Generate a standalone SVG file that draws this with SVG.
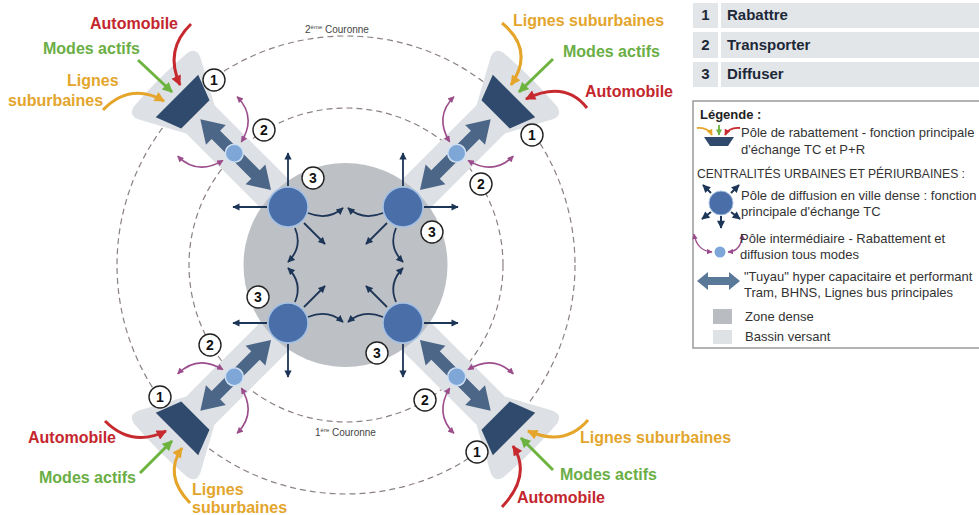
<svg xmlns="http://www.w3.org/2000/svg" width="979" height="515" viewBox="0 0 979 515">
<defs>
<style>
text{font-family:"Liberation Sans",Arial,Helvetica,sans-serif}
.lbl{font-size:16px;font-weight:bold}
.red{fill:#c4262e}
.grn{fill:#6aae45}
.yel{fill:#e3a52c}
.dash{fill:none;stroke:#8c8080;stroke-width:1.2;stroke-dasharray:6 4}
.band{fill:#dde0e4}
.funnel{fill:#2f4a6d}
.pipe{fill:#4c6688}
.ipole{fill:#7ea7d8;stroke:#d0e0f2;stroke-width:1.5}
.dpole{fill:#4a6fa8;stroke:#a4c0e4;stroke-width:1.5}
.nav{fill:none;stroke:#1d3557;stroke-width:1.8;marker-end:url(#mN)}
.pur{fill:none;stroke:#9b4d8b;stroke-width:1.6;marker-start:url(#mP);marker-end:url(#mP)}
.ar{fill:none;stroke:#c62a2f;stroke-width:3;marker-end:url(#mR)}
.ag{fill:none;stroke:#6db33f;stroke-width:3;marker-end:url(#mG)}
.ay{fill:none;stroke:#e5a52a;stroke-width:3;marker-end:url(#mY)}
.num circle{fill:#fff;stroke:#222;stroke-width:1.4}
.num text{font-size:14px;font-weight:bold;text-anchor:middle;fill:#111}
.leg{font-size:13px;fill:#333}
.box{fill:#e3e6e9}
.btxt{font-size:15px;font-weight:bold;fill:#1d2838}
.cour{font-size:10px;fill:#444}
</style>
<marker id="mN" viewBox="0 0 10 10" refX="9" refY="5" markerWidth="4.6" markerHeight="4" markerUnits="strokeWidth" orient="auto"><path d="M0 0L10 5L0 10Z" fill="#1d3557"/></marker>
<marker id="mP" viewBox="0 0 10 10" refX="9" refY="5" markerWidth="4.4" markerHeight="4" markerUnits="strokeWidth" orient="auto-start-reverse"><path d="M0 0L10 5L0 10Z" fill="#9b4d8b"/></marker>
<marker id="mR" viewBox="0 0 10 10" refX="9" refY="5" markerWidth="3.6" markerHeight="3.4" markerUnits="strokeWidth" orient="auto"><path d="M0 0L10 5L0 10Z" fill="#c62a2f"/></marker>
<marker id="mG" viewBox="0 0 10 10" refX="9" refY="5" markerWidth="3.6" markerHeight="3.4" markerUnits="strokeWidth" orient="auto"><path d="M0 0L10 5L0 10Z" fill="#6db33f"/></marker>
<marker id="mY" viewBox="0 0 10 10" refX="9" refY="5" markerWidth="3.6" markerHeight="3.4" markerUnits="strokeWidth" orient="auto"><path d="M0 0L10 5L0 10Z" fill="#e5a52a"/></marker>
</defs>

<!-- couronnes -->
<g id="couronnes">
<circle class="dash" cx="346" cy="265" r="229"/>
<circle class="dash" cx="346" cy="265" r="157"/>
<text class="cour" x="305" y="33">2<tspan font-size="6" dy="-4">ème</tspan><tspan dy="4"> Couronne</tspan></text>
<text class="cour" x="315" y="436">1<tspan font-size="6" dy="-4">ère</tspan><tspan dy="4"> Couronne</tspan></text>
</g>

<!-- bassins versants -->
<g id="bassins">
<path class="band" transform="translate(288,207) rotate(225)" d="M0 -20L124 -20L168 -44Q178 -48 180 -38Q183 0 180 38Q178 48 168 44L124 20L0 20Z"/>
<path class="band" transform="translate(403,207) rotate(-45)" d="M0 -20L124 -20L168 -44Q178 -48 180 -38Q183 0 180 38Q178 48 168 44L124 20L0 20Z"/>
<path class="band" transform="translate(403,323) rotate(45)" d="M0 -20L124 -20L168 -44Q178 -48 180 -38Q183 0 180 38Q178 48 168 44L124 20L0 20Z"/>
<path class="band" transform="translate(288,323) rotate(135)" d="M0 -20L124 -20L168 -44Q178 -48 180 -38Q183 0 180 38Q178 48 168 44L124 20L0 20Z"/>
</g>

<g id="zone-dense"><circle cx="345.5" cy="265" r="102" fill="#bdc0c4"/></g>

<!-- corridors: tuyau, pole de rabattement, pole intermediaire -->
<g id="axe-nw" transform="translate(288,207) rotate(225)">
<path class="pipe" d="M24 0L46 -14L46 -6L102 -6L102 -14L124 0L102 14L102 6L46 6L46 14Z"/>
<path class="funnel" d="M131 -20L157 -30L157 30L131 20Z"/>
<circle class="ipole" cx="76" cy="0" r="9"/>
</g>
<g id="axe-ne" transform="translate(403,207) rotate(-45)">
<path class="pipe" d="M24 0L46 -14L46 -6L102 -6L102 -14L124 0L102 14L102 6L46 6L46 14Z"/>
<path class="funnel" d="M131 -20L157 -30L157 30L131 20Z"/>
<circle class="ipole" cx="76" cy="0" r="9"/>
</g>
<g id="axe-se" transform="translate(403,323) rotate(45)">
<path class="pipe" d="M24 0L46 -14L46 -6L102 -6L102 -14L124 0L102 14L102 6L46 6L46 14Z"/>
<path class="funnel" d="M131 -20L157 -30L157 30L131 20Z"/>
<circle class="ipole" cx="76" cy="0" r="9"/>
</g>
<g id="axe-sw" transform="translate(288,323) rotate(135)">
<path class="pipe" d="M24 0L46 -14L46 -6L102 -6L102 -14L124 0L102 14L102 6L46 6L46 14Z"/>
<path class="funnel" d="M131 -20L157 -30L157 30L131 20Z"/>
<circle class="ipole" cx="76" cy="0" r="9"/>
</g>

<!-- poles de diffusion -->
<g id="pole-nw"><circle class="dpole" cx="288" cy="207" r="20"/></g>
<g id="pole-ne"><circle class="dpole" cx="403" cy="207" r="20"/></g>
<g id="pole-sw"><circle class="dpole" cx="288" cy="323" r="20"/></g>
<g id="pole-se"><circle class="dpole" cx="403" cy="323" r="20"/></g>

<!-- connectors -->
<g id="connectors">
<g transform="translate(288,207)">
<path class="nav" d="M0 -21L0 -54"/><path class="nav" d="M-21 0L-55 0"/><path class="nav" d="M20 6Q40 14 55 1"/><path class="nav" d="M16 16L37 37"/><path class="nav" d="M7 21Q15 40 0 55"/>
</g>
<g transform="translate(403,207) scale(-1,1)">
<path class="nav" d="M0 -21L0 -54"/><path class="nav" d="M-21 0L-55 0"/><path class="nav" d="M20 6Q40 14 55 1"/><path class="nav" d="M16 16L37 37"/><path class="nav" d="M7 21Q15 40 0 55"/>
</g>
<g transform="translate(288,323) scale(1,-1)">
<path class="nav" d="M0 -21L0 -54"/><path class="nav" d="M-21 0L-55 0"/><path class="nav" d="M20 6Q40 14 55 1"/><path class="nav" d="M16 16L37 37"/><path class="nav" d="M7 21Q15 40 0 55"/>
</g>
<g transform="translate(403,323) scale(-1,-1)">
<path class="nav" d="M0 -21L0 -54"/><path class="nav" d="M-21 0L-55 0"/><path class="nav" d="M20 6Q40 14 55 1"/><path class="nav" d="M16 16L37 37"/><path class="nav" d="M7 21Q15 40 0 55"/>
</g>
<g transform="translate(288,207) rotate(225)"><path class="pur" d="M79 13Q86 42 114 42"/><path class="pur" d="M79 -13Q86 -42 114 -42"/></g>
<g transform="translate(403,207) rotate(-45)"><path class="pur" d="M79 13Q86 42 114 42"/><path class="pur" d="M79 -13Q86 -42 114 -42"/></g>
<g transform="translate(403,323) rotate(45)"><path class="pur" d="M79 13Q86 42 114 42"/><path class="pur" d="M79 -13Q86 -42 114 -42"/></g>
<g transform="translate(288,323) rotate(135)"><path class="pur" d="M79 13Q86 42 114 42"/><path class="pur" d="M79 -13Q86 -42 114 -42"/></g>
<path class="ar" d="M191 24Q164 50 180 85"/>
<path class="ag" d="M138 60L172 92"/>
<path class="ay" d="M103 110Q130 82 164 101"/>
<path class="ay" d="M502 23Q535 50 511 85"/>
<path class="ag" d="M553 59L519 92"/>
<path class="ar" d="M587 108Q565 80 526 99"/>
<path class="ar" d="M105 421Q132 448 166 431"/>
<path class="ag" d="M140 473L172 441"/>
<path class="ay" d="M190 503Q163 475 182 448"/>
<path class="ay" d="M588 420Q565 447 528 431"/>
<path class="ag" d="M553 470L521 438"/>
<path class="ar" d="M502 507Q532 475 513 446"/>
</g>

<!-- number markers -->
<g id="markers">
<g class="num"><circle cx="214" cy="80" r="11"/><text x="214" y="85">1</text></g>
<g class="num"><circle cx="264" cy="130" r="11"/><text x="264" y="135">2</text></g>
<g class="num"><circle cx="313" cy="178" r="11"/><text x="313" y="183">3</text></g>
<g class="num"><circle cx="532" cy="135" r="11"/><text x="532" y="140">1</text></g>
<g class="num"><circle cx="481" cy="184" r="11"/><text x="481" y="189">2</text></g>
<g class="num"><circle cx="432" cy="232" r="11"/><text x="432" y="237">3</text></g>
<g class="num"><circle cx="160" cy="397" r="11"/><text x="160" y="402">1</text></g>
<g class="num"><circle cx="210" cy="345" r="11"/><text x="210" y="350">2</text></g>
<g class="num"><circle cx="258" cy="297" r="11"/><text x="258" y="302">3</text></g>
<g class="num"><circle cx="477" cy="452" r="11"/><text x="477" y="457">1</text></g>
<g class="num"><circle cx="425" cy="400" r="11"/><text x="425" y="405">2</text></g>
<g class="num"><circle cx="377" cy="353" r="11"/><text x="377" y="358">3</text></g>
</g>

<!-- mode labels -->
<g id="labels-nw">
<text class="lbl red" x="90" y="29">Automobile</text>
<text class="lbl grn" x="43" y="54">Modes actifs</text>
<text class="lbl yel" x="67" y="86">Lignes</text>
<text class="lbl yel" x="8" y="106">suburbaines</text>
</g>
<g id="labels-ne">
<text class="lbl yel" x="513" y="26">Lignes suburbaines</text>
<text class="lbl grn" x="563" y="57">Modes actifs</text>
<text class="lbl red" x="585" y="97">Automobile</text>
</g>
<g id="labels-sw">
<text class="lbl red" x="28" y="443">Automobile</text>
<text class="lbl grn" x="39" y="483">Modes actifs</text>
<text class="lbl yel" x="192" y="495">Lignes</text>
<text class="lbl yel" x="192" y="513">suburbaines</text>
</g>
<g id="labels-se">
<text class="lbl yel" x="580" y="443">Lignes suburbaines</text>
<text class="lbl grn" x="560" y="480">Modes actifs</text>
<text class="lbl red" x="517" y="503">Automobile</text>
</g>

<!-- fonctions table -->
<g id="fonctions">
<rect class="box" x="693" y="3" width="25" height="25"/><rect class="box" x="721" y="3" width="258" height="25"/>
<rect class="box" x="693" y="32" width="25" height="26"/><rect class="box" x="721" y="32" width="258" height="26"/>
<rect class="box" x="693" y="62" width="25" height="25"/><rect class="box" x="721" y="62" width="258" height="25"/>
<text class="btxt" x="705.5" y="20" text-anchor="middle">1</text><text class="btxt" x="727" y="20">Rabattre</text>
<text class="btxt" x="705.5" y="50" text-anchor="middle">2</text><text class="btxt" x="727" y="50">Transporter</text>
<text class="btxt" x="705.5" y="79" text-anchor="middle">3</text><text class="btxt" x="727" y="79">Diffuser</text>
</g>

<!-- legend -->
<g id="legende">
<rect x="693" y="101" width="300" height="247" fill="#fff" stroke="#9a9a9a" stroke-width="1.5"/>
<text x="700" y="119" font-size="13" font-weight="bold" fill="#222">Légende :</text>
<path d="M704 137L734 137L728 146L710 146Z" fill="#2f4a6d"/>
<path d="M697 128Q708 127 712 135" fill="none" stroke="#e5a52a" stroke-width="1.8" marker-end="url(#mY)"/>
<path d="M719 125L719 135" fill="none" stroke="#6db33f" stroke-width="1.8" marker-end="url(#mG)"/>
<path d="M740 128Q729 127 725 135" fill="none" stroke="#c62a2f" stroke-width="1.8" marker-end="url(#mR)"/>
<text class="leg" x="741" y="137">Pôle de rabattement - fonction principale</text>
<text class="leg" x="741" y="154">d'échange TC et P+R</text>
<text class="leg" x="697" y="178" font-size="12" textLength="268" lengthAdjust="spacingAndGlyphs">CENTRALITÉS URBAINES ET PÉRIURBAINES :</text>
<circle cx="721" cy="203" r="12" fill="#4a6fa8" stroke="#a4c0e4" stroke-width="1"/>
<g fill="none" stroke="#1d3557" stroke-width="2" marker-end="url(#mN)">
<path d="M711 193L703 185"/><path d="M731 193L739 185"/><path d="M711 212L702 219"/><path d="M721 216L721 228"/><path d="M731 212L740 219"/>
</g>
<text class="leg" x="741" y="200">Pôle de diffusion en ville dense : fonction</text>
<text class="leg" x="741" y="216">principale d'échange TC</text>
<circle cx="720" cy="252" r="5.5" fill="#7ea7d8"/>
<path d="M694 234Q697 251 712 252" fill="none" stroke="#9b4d8b" stroke-width="1.4" marker-start="url(#mP)" marker-end="url(#mP)"/>
<path d="M728 252Q742 251 742 234" fill="none" stroke="#9b4d8b" stroke-width="1.4" marker-start="url(#mP)" marker-end="url(#mP)"/>
<text class="leg" x="740" y="243">Pôle intermédiaire - Rabattement et</text>
<text class="leg" x="740" y="259">diffusion tous modes</text>
<path d="M697 281L708 272L708 277L729 277L729 272L740 281L729 290L729 285L708 285L708 290Z" fill="#5a7897"/>
<text class="leg" x="744" y="281">"Tuyau" hyper capacitaire et performant</text>
<text class="leg" x="744" y="297">Tram, BHNS, Lignes bus principales</text>
<rect x="713" y="309" width="19" height="15" fill="#b9bdc1"/>
<text class="leg" x="745" y="321">Zone dense</text>
<rect x="713" y="330" width="19" height="14" fill="#dfe2e5"/>
<text class="leg" x="745" y="341">Bassin versant</text>
</g>
</svg>
